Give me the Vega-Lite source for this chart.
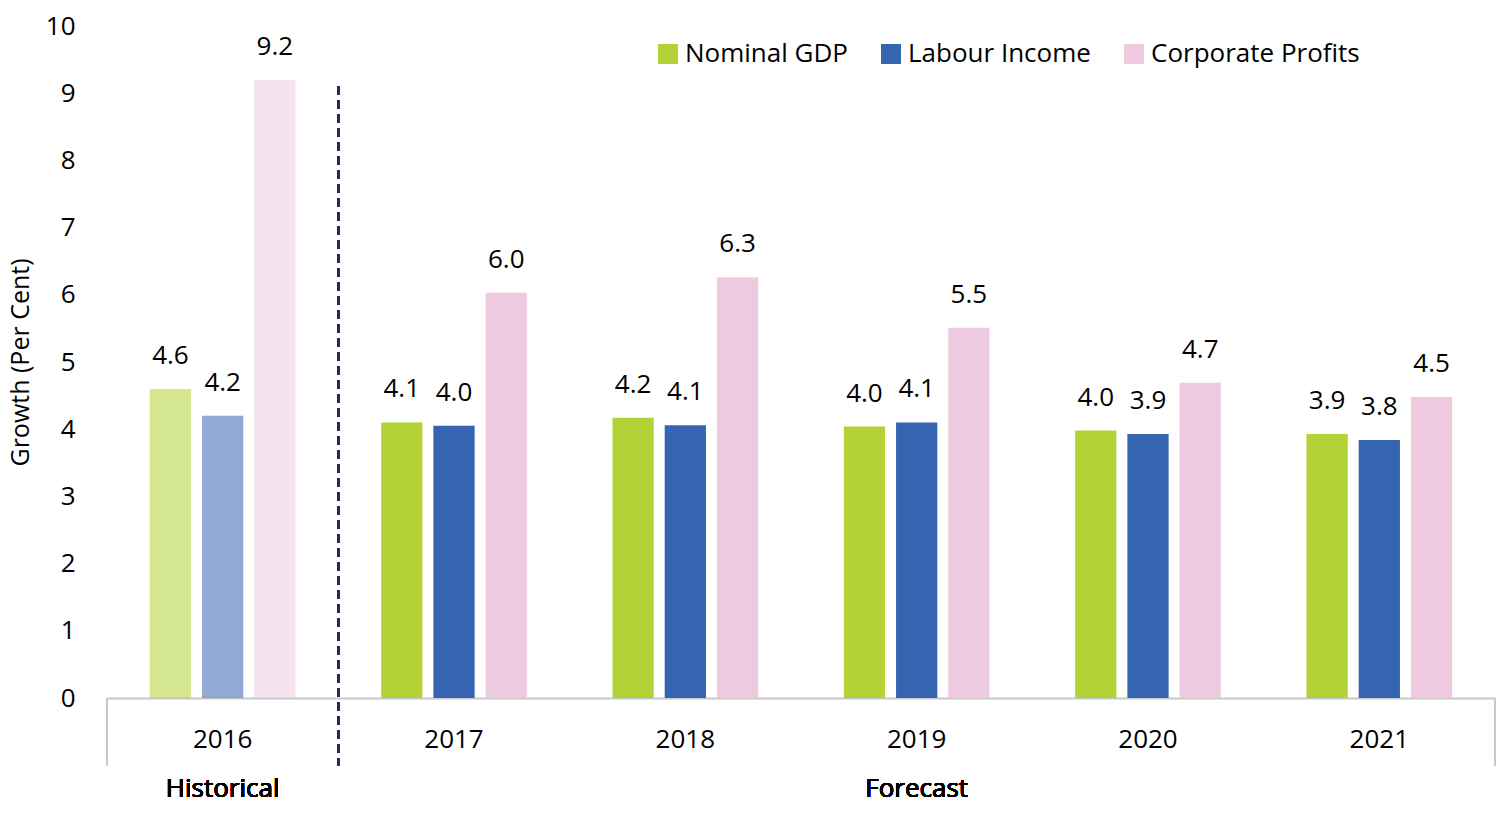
{
  "$schema": "https://vega.github.io/schema/vega-lite/v6.json",
  "width": 1388,
  "height": 672,
  "autosize": "none",
  "padding": {"left": 107, "top": 26, "right": 5, "bottom": 127},
  "config": {
    "font": "Open Sans",
    "view": {"stroke": null}
  },
  "data": {
    "values": [
      {"year": "2016", "series": "Nominal GDP", "value": 4.6},
      {"year": "2016", "series": "Labour Income", "value": 4.2},
      {"year": "2016", "series": "Corporate Profits", "value": 9.2},
      {"year": "2017", "series": "Nominal GDP", "value": 4.1},
      {"year": "2017", "series": "Labour Income", "value": 4.05},
      {"year": "2017", "series": "Corporate Profits", "value": 6.03},
      {"year": "2018", "series": "Nominal GDP", "value": 4.17},
      {"year": "2018", "series": "Labour Income", "value": 4.06},
      {"year": "2018", "series": "Corporate Profits", "value": 6.26},
      {"year": "2019", "series": "Nominal GDP", "value": 4.04},
      {"year": "2019", "series": "Labour Income", "value": 4.1},
      {"year": "2019", "series": "Corporate Profits", "value": 5.51},
      {"year": "2020", "series": "Nominal GDP", "value": 3.98},
      {"year": "2020", "series": "Labour Income", "value": 3.93},
      {"year": "2020", "series": "Corporate Profits", "value": 4.69},
      {"year": "2021", "series": "Nominal GDP", "value": 3.93},
      {"year": "2021", "series": "Labour Income", "value": 3.84},
      {"year": "2021", "series": "Corporate Profits", "value": 4.48}
    ]
  },
  "encoding": {
    "x": {
      "field": "year", "type": "nominal",
      "scale": {"paddingInner": 0, "paddingOuter": 0},
      "axis": {
        "title": null, "labelAngle": 0, "labelFontSize": 26, "labelColor": "black",
        "labelPadding": 28, "ticks": false, "domainColor": "#C8C8C8", "domainWidth": 2
      }
    },
    "y": {
      "field": "value", "type": "quantitative",
      "scale": {"domain": [0, 10]},
      "axis": {
        "title": "Growth (Per Cent)", "titleFontSize": 25, "titleFontWeight": "normal",
        "titleColor": "black", "titlePadding": 12, "grid": false, "domain": false,
        "ticks": false, "labelFontSize": 26, "labelColor": "black", "labelPadding": 32,
        "tickCount": 10
      }
    }
  },
  "layer": [
    {
      "mark": {"type": "bar"},
      "encoding": {
        "xOffset": {
          "field": "series", "type": "nominal",
          "sort": ["Nominal GDP", "Labour Income", "Corporate Profits"],
          "scale": {"paddingInner": 0.21, "paddingOuter": 0.82}
        },
        "color": {
          "field": "series", "type": "nominal",
          "sort": ["Nominal GDP", "Labour Income", "Corporate Profits"],
          "scale": {
            "domain": ["Nominal GDP", "Labour Income", "Corporate Profits"],
            "range": ["#B2D235", "#3564B0", "#EDCAE0"]
          },
          "legend": {
            "title": null, "orient": "none", "legendX": 548, "legendY": 15,
            "direction": "horizontal",
            "symbolType": "square", "symbolSize": 400, "labelFontSize": 26,
            "labelColor": "black", "columnPadding": 30,
            "labelLimit": 400
          }
        },
        "opacity": {
          "condition": {"test": "datum.year === '2016'", "value": 0.55},
          "value": 1
        }
      }
    },
    {
      "mark": {"type": "text", "dy": -20, "fontSize": 26, "baseline": "bottom", "color": "black"},
      "encoding": {
        "xOffset": {
          "field": "series", "type": "nominal",
          "sort": ["Nominal GDP", "Labour Income", "Corporate Profits"],
          "scale": {"paddingInner": 0.21, "paddingOuter": 0.82}
        },
        "text": {"field": "value", "type": "quantitative", "format": ".1f"}
      }
    },
    {
      "mark": {"type": "rule", "strokeDash": [8, 6], "strokeWidth": 2, "color": "#1F3050", "clip": false},
      "encoding": {
        "x": {"datum": "2016", "bandPosition": 1},
        "y": {"datum": 9.1},
        "y2": {"datum": -1}
      }
    },
    {
      "mark": {"type": "rule", "strokeWidth": 2, "color": "#C8C8C8", "clip": false},
      "encoding": {
        "x": {"datum": "2016", "bandPosition": 0},
        "y": {"datum": 0},
        "y2": {"datum": -1}
      }
    },
    {
      "mark": {"type": "rule", "strokeWidth": 2, "color": "#C8C8C8", "clip": false},
      "encoding": {
        "x": {"datum": "2021", "bandPosition": 1},
        "y": {"datum": 0},
        "y2": {"datum": -1}
      }
    },
    {
      "mark": {"type": "text", "fontSize": 26, "fontWeight": "normal", "color": "black", "text": "Historical"},
      "encoding": {
        "x": {"datum": "2016", "bandPosition": 0.5},
        "y": {"datum": -1.36}
      }
    },
    {
      "mark": {"type": "text", "fontSize": 26, "fontWeight": "normal", "color": "black", "text": "Forecast"},
      "encoding": {
        "x": {"datum": "2019", "bandPosition": 0.5},
        "y": {"datum": -1.36}
      }
    }
  ]
}
